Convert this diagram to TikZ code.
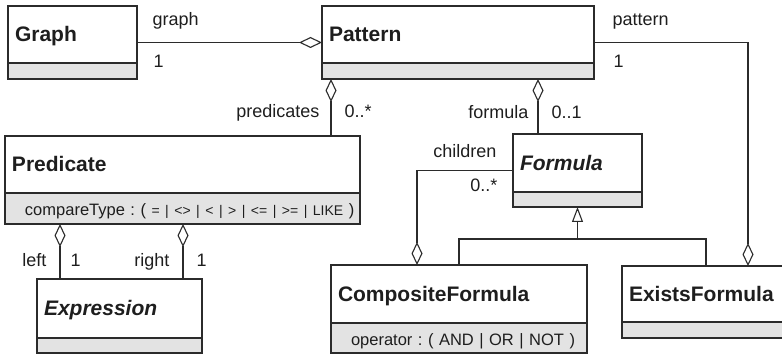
\documentclass[tikz,border=0pt]{standalone}
\usepackage{fontspec}
\setmainfont{Liberation Sans}
\usetikzlibrary{arrows.meta,positioning,calc}

\definecolor{linegray}{HTML}{2B2B2B}
\definecolor{compgray}{HTML}{E3E3E3}
\definecolor{textgray}{HTML}{1E1E1E}

\tikzset{
  classname/.style={draw=linegray, line width=1.1pt, fill=white, anchor=north west,
    outer sep=0pt, inner xsep=0pt, inner ysep=0pt, align=left,
    text height=15pt, text depth=0pt, text=textgray,
    font=\fontsize{21}{25}\selectfont\bfseries,
    execute at begin node={\hspace*{7pt}}},
  classattr/.style={classname, fill=compgray,
    font=\fontsize{16.5}{20}\selectfont,
    execute at begin node={\hspace*{13pt}}},
  assoc/.style={draw=linegray, line width=1.1pt},
  aggr/.style={assoc, {Diamond[open,length=23pt,width=11pt]}-},
  inherit/.style={assoc, -{Triangle[open,length=15pt,width=11pt]}},
  role/.style={font=\fontsize{18}{21}\selectfont, text=textgray, inner sep=0pt}
}

\begin{document}
\frenchspacing
\begin{tikzpicture}[x=1pt,y=-1pt]
  \clip (0,0) rectangle (782,355);

  % the classes, each a name box with its attribute box below
  \node[classname, text width=129pt, minimum height=57pt] (graph) at (8,6) {Graph};
  \node[classattr, text width=129pt, minimum height=16pt] (graph-attr) at (graph.south west) {};

  \node[classname, text width=272pt, minimum height=57pt] (pattern) at (322,6) {Pattern};
  \node[classattr, text width=272pt, minimum height=16pt] (pattern-attr) at (pattern.south west) {};

  \node[classname, text width=355pt, minimum height=57pt] (predicate) at (5,136) {Predicate};
  \node[classattr, text width=355pt, minimum height=31pt] (predicate-attr) at (predicate.south west)
    {\mbox{compareType : ( {\fontsize{14}{18}\selectfont = | <> | < | > | <= | >= | LIKE} )}};

  \node[classname, text width=165pt, minimum height=59pt] (expression) at (37,279) {\itshape Expression};
  \node[classattr, text width=165pt, minimum height=15pt] (expression-attr) at (expression.south west) {};

  \node[classname, text width=129pt, minimum height=58pt] (formula) at (513,134) {\itshape Formula};
  \node[classattr, text width=129pt, minimum height=15pt] (formula-attr) at (formula.south west) {};

  \node[classname, text width=256pt, minimum height=58pt] (composite) at (331,265) {CompositeFormula};
  \node[classattr, text width=256pt, minimum height=30pt] (composite-attr) at (composite.south west)
    {\mbox{operator : ( AND | OR | NOT )}};

  \node[classname, text width=168pt, minimum height=56pt] (exists) at (622,266) {ExistsFormula};
  \node[classattr, text width=168pt, minimum height=16pt] (exists-attr) at (exists.south west) {};

  % middle points of the side edges
  \coordinate (graph-mid) at ($(graph.north east)!.5!(graph-attr.south east)$);
  \coordinate (pattern-mid) at ($(pattern.north east)!.5!(pattern-attr.south east)$);
  \coordinate (formula-mid) at ($(formula.north west)!.5!(formula-attr.south west)$);

  % aggregations
  \draw[aggr] (graph-mid -| pattern.west) -- (graph-mid)
    node[role, pos=1, anchor=base west, xshift=15pt, yshift=16.5pt] {graph}
    node[role, pos=1, anchor=base west, xshift=16pt, yshift=-25pt] {1};

  \draw[aggr] ([xshift=126pt]exists.north west) |- (pattern-mid)
    node[role, pos=1, anchor=base west, xshift=18pt, yshift=16.5pt] {pattern}
    node[role, pos=1, anchor=base west, xshift=19pt, yshift=-25pt] {1};

  \draw[aggr] ([xshift=9pt]pattern-attr.south west) -- ([xshift=9pt]pattern-attr.south west |- predicate.north)
    node[role, pos=.684, anchor=base east, xshift=-11pt] {predicates}
    node[role, pos=.684, anchor=base west, xshift=13pt] {0..*};

  \draw[aggr] ([xshift=25pt]formula.north west |- pattern-attr.south) -- ([xshift=25pt]formula.north west)
    node[role, pos=.71, anchor=base east, xshift=-9pt] {formula}
    node[role, pos=.71, anchor=base west, xshift=13pt] {0..1};

  \draw[aggr] ([xshift=23pt]expression.north west |- predicate-attr.south) -- ([xshift=23pt]expression.north west)
    node[role, pos=.78, anchor=base east, xshift=-13pt] {left}
    node[role, pos=.78, anchor=base west, xshift=10pt] {1};

  \draw[aggr] ([xshift=146pt]expression.north west |- predicate-attr.south) -- ([xshift=146pt]expression.north west)
    node[role, pos=.78, anchor=base east, xshift=-13pt] {right}
    node[role, pos=.78, anchor=base west, xshift=13pt] {1};

  \draw[aggr] ([xshift=86pt]composite.north west) |- (formula-mid)
    node[role, pos=1, anchor=base east, xshift=-16pt, yshift=13pt] {children}
    node[role, pos=1, anchor=base east, xshift=-15pt, yshift=-21pt] {0..*};

  % generalization of the two formula kinds
  \coordinate (fork) at ([yshift=-32pt]formula-attr.south);
  \draw[inherit] (composite.north) |- (fork) -- (formula-attr.south);
  \draw[assoc] (exists.north) |- (fork);
\end{tikzpicture}
\end{document}
